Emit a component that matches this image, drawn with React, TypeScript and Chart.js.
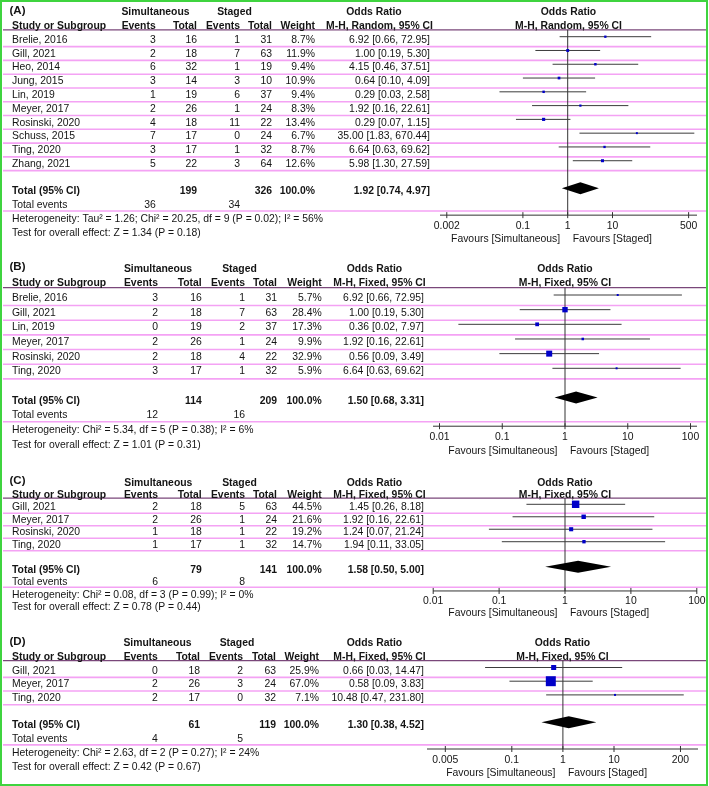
import React, { useEffect, useRef } from "react";
import { Chart, registerables } from "chart.js";
Chart.register(...registerables);

// ---------------- Panel A ----------------
const studiesA = ["Brelie, 2016", "Gill, 2021", "Heo, 2014", "Jung, 2015", "Lin, 2019", "Meyer, 2017", "Rosinski, 2020", "Schuss, 2015", "Ting, 2020", "Zhang, 2021"];
const simEventsA = [3, 2, 6, 3, 1, 2, 4, 7, 3, 5];
const simTotalA = [16, 18, 32, 14, 19, 26, 18, 17, 17, 22];
const stgEventsA = [1, 7, 1, 3, 6, 1, 11, 0, 1, 3];
const stgTotalA = [31, 63, 19, 10, 37, 24, 22, 24, 32, 64];
const weightA = [8.7, 11.9, 9.4, 10.9, 9.4, 8.3, 13.4, 6.7, 8.7, 12.6];
const orA = [6.92, 1.0, 4.15, 0.64, 0.29, 1.92, 0.29, 35.0, 6.64, 5.98];
const loA = [0.66, 0.19, 0.46, 0.1, 0.03, 0.16, 0.07, 1.83, 0.63, 1.3];
const hiA = [72.95, 5.3, 37.51, 4.09, 2.58, 22.61, 1.15, 670.44, 69.62, 27.59];
const totalsA = [199, 326];
const eventsA = [36, 34];
const pooledA = [1.92, 0.74, 4.97];
const ticksA = [0.002, 0.1, 1, 10, 500];
const hetA = "Heterogeneity: Tau² = 1.26; Chi² = 20.25, df = 9 (P = 0.02); I² = 56%";
const testA = "Test for overall effect: Z = 1.34 (P = 0.18)";

// ---------------- Panel B ----------------
const studiesB = ["Brelie, 2016", "Gill, 2021", "Lin, 2019", "Meyer, 2017", "Rosinski, 2020", "Ting, 2020"];
const simEventsB = [3, 2, 0, 2, 2, 3];
const simTotalB = [16, 18, 19, 26, 18, 17];
const stgEventsB = [1, 7, 2, 1, 4, 1];
const stgTotalB = [31, 63, 37, 24, 22, 32];
const weightB = [5.7, 28.4, 17.3, 9.9, 32.9, 5.9];
const orB = [6.92, 1.0, 0.36, 1.92, 0.56, 6.64];
const loB = [0.66, 0.19, 0.02, 0.16, 0.09, 0.63];
const hiB = [72.95, 5.3, 7.97, 22.61, 3.49, 69.62];
const totalsB = [114, 209];
const eventsB = [12, 16];
const pooledB = [1.5, 0.68, 3.31];
const ticksB = [0.01, 0.1, 1, 10, 100];
const hetB = "Heterogeneity: Chi² = 5.34, df = 5 (P = 0.38); I² = 6%";
const testB = "Test for overall effect: Z = 1.01 (P = 0.31)";

// ---------------- Panel C ----------------
const studiesC = ["Gill, 2021", "Meyer, 2017", "Rosinski, 2020", "Ting, 2020"];
const simEventsC = [2, 2, 1, 1];
const simTotalC = [18, 26, 18, 17];
const stgEventsC = [5, 1, 1, 1];
const stgTotalC = [63, 24, 22, 32];
const weightC = [44.5, 21.6, 19.2, 14.7];
const orC = [1.45, 1.92, 1.24, 1.94];
const loC = [0.26, 0.16, 0.07, 0.11];
const hiC = [8.18, 22.61, 21.24, 33.05];
const totalsC = [79, 141];
const eventsC = [6, 8];
const pooledC = [1.58, 0.5, 5.0];
const ticksC = [0.01, 0.1, 1, 10, 100];
const hetC = "Heterogeneity: Chi² = 0.08, df = 3 (P = 0.99); I² = 0%";
const testC = "Test for overall effect: Z = 0.78 (P = 0.44)";

// ---------------- Panel D ----------------
const studiesD = ["Gill, 2021", "Meyer, 2017", "Ting, 2020"];
const simEventsD = [0, 2, 2];
const simTotalD = [18, 26, 17];
const stgEventsD = [2, 3, 0];
const stgTotalD = [63, 24, 32];
const weightD = [25.9, 67.0, 7.1];
const orD = [0.66, 0.58, 10.48];
const loD = [0.03, 0.09, 0.47];
const hiD = [14.47, 3.83, 231.8];
const totalsD = [61, 119];
const eventsD = [4, 5];
const pooledD = [1.3, 0.38, 4.52];
const ticksD = [0.005, 0.1, 1, 10, 200];
const hetD = "Heterogeneity: Chi² = 2.63, df = 2 (P = 0.27); I² = 24%";
const testD = "Test for overall effect: Z = 0.42 (P = 0.67)";

// ---------------- styles / layout ----------------
const W = 709;
const H = 786;
const FONT = '"Liberation Sans", Arial, Helvetica, sans-serif';
const FONT_SIZE = 10.4;
const TEXT = "#141414";
const PINK = "#f4a2f4";
const HEAD_LINE = "#7a477a";
const LINE = "#333333";
const CI_COLOR = "#3c3c3c";
const BOX = "#0000c8";

const panels = [
  {
    label: "(A)", method: "M-H, Random, 95% CI",
    studies: studiesA, simEvents: simEventsA, simTotal: simTotalA, stgEvents: stgEventsA, stgTotal: stgTotalA,
    weight: weightA, or: orA, lo: loA, hi: hiA, totals: totalsA, events: eventsA, pooled: pooledA, ticks: ticksA,
    het: hetA, test: testA,
    lay: { row0: 36.7, step: 13.78, left: 440, right: 697, nullPx: 567.7, ppd: 44.8, cols: [155.7, 197, 240, 272, 315, 430], simHdr: 155.5, stgHdr: 234.5, orHdr: 374, methodHdr: 379.5 },
  },
  {
    label: "(B)", method: "M-H, Fixed, 95% CI",
    studies: studiesB, simEvents: simEventsB, simTotal: simTotalB, stgEvents: stgEventsB, stgTotal: stgTotalB,
    weight: weightB, or: orB, lo: loB, hi: hiB, totals: totalsB, events: eventsB, pooled: pooledB, ticks: ticksB,
    het: hetB, test: testB,
    lay: { row0: 295, step: 14.66, left: 433, right: 697, nullPx: 565.0, ppd: 62.75, cols: [158, 201.7, 245, 277, 321.7, 424], simHdr: 158, stgHdr: 239.5, orHdr: 374.5, methodHdr: 379.5 },
  },
  {
    label: "(C)", method: "M-H, Fixed, 95% CI",
    studies: studiesC, simEvents: simEventsC, simTotal: simTotalC, stgEvents: stgEventsC, stgTotal: stgTotalC,
    weight: weightC, or: orC, lo: loC, hi: hiC, totals: totalsC, events: eventsC, pooled: pooledC, ticks: ticksC,
    het: hetC, test: testC,
    lay: { row0: 504.3, step: 12.47, left: 433, right: 697, nullPx: 565.0, ppd: 65.9, cols: [158, 201.7, 245, 277, 321.7, 424], simHdr: 158.3, stgHdr: 239.5, orHdr: 374.5, methodHdr: 379.5 },
  },
  {
    label: "(D)", method: "M-H, Fixed, 95% CI",
    studies: studiesD, simEvents: simEventsD, simTotal: simTotalD, stgEvents: stgEventsD, stgTotal: stgTotalD,
    weight: weightD, or: orD, lo: loD, hi: hiD, totals: totalsD, events: eventsD, pooled: pooledD, ticks: ticksD,
    het: hetD, test: testD,
    lay: { row0: 667.5, step: 13.7, left: 427, right: 698, nullPx: 562.9, ppd: 51.1, cols: [157.7, 200, 243, 276, 319, 424], simHdr: 157.5, stgHdr: 237, orHdr: 374.5, methodHdr: 379.5 },
  },
];

const fmtCI = (o: number, l: number, h: number) => `${o.toFixed(2)} [${l.toFixed(2)}, ${h.toFixed(2)}]`;
const boxSide = (w: number) => Math.max(2, 0.49 * Math.pow(w, 0.717));

function makePlugin(p: any) {
  const lay = p.lay;
  const L = p.studies.length - 1;
  return {
    id: "forest",
    beforeDatasetsDraw(chart: any) {
      const { ctx, chartArea } = chart;
      const x = chart.scales.x;
      const y = chart.scales.y;
      const Y = (v: number) => y.getPixelForValue(v);
      const seg = (x1: number, y1: number, x2: number, y2: number) => {
        ctx.beginPath();
        ctx.moveTo(x1, y1);
        ctx.lineTo(x2, y2);
        ctx.stroke();
      };
      ctx.save();
      // pink row separators
      ctx.strokeStyle = PINK;
      ctx.lineWidth = 1.6;
      p.studies.forEach((_: string, i: number) => seg(3, Y(i + 0.72), 706, Y(i + 0.72)));
      seg(3, Y(L + 3.65), 706, Y(L + 3.65));
      // header line
      ctx.strokeStyle = HEAD_LINE;
      ctx.lineWidth = 1.2;
      seg(3, Y(-0.5), 706, Y(-0.5));
      // null line
      const x1 = x.getPixelForValue(1);
      ctx.strokeStyle = LINE;
      ctx.lineWidth = 1;
      seg(x1, Y(-0.5), x1, Y(L + 3.95));
      // axis
      const ay = Y(L + 3.95);
      seg(chartArea.left, ay, chartArea.right, ay);
      p.ticks.forEach((t: number) => {
        const tx = x.getPixelForValue(t);
        seg(tx, ay - 3, tx, ay + 3);
      });
      // confidence intervals
      ctx.strokeStyle = CI_COLOR;
      ctx.lineWidth = 1;
      p.studies.forEach((_: string, i: number) => {
        seg(x.getPixelForValue(p.lo[i]), Y(i), x.getPixelForValue(p.hi[i]), Y(i));
      });
      ctx.restore();
    },
    afterDatasetsDraw(chart: any) {
      const { ctx } = chart;
      const x = chart.scales.x;
      const y = chart.scales.y;
      const Y = (v: number) => y.getPixelForValue(v);
      ctx.save();
      // pooled diamond
      const [est, plo, phi] = p.pooled;
      const dy = Y(L + 2);
      ctx.fillStyle = "#000000";
      ctx.beginPath();
      ctx.moveTo(x.getPixelForValue(plo), dy);
      ctx.lineTo(x.getPixelForValue(est), dy - 6);
      ctx.lineTo(x.getPixelForValue(phi), dy);
      ctx.lineTo(x.getPixelForValue(est), dy + 6);
      ctx.closePath();
      ctx.fill();

      const txt = (s: string, tx: number, v: number, align: CanvasTextAlign, bold = false, size = FONT_SIZE, adj = 0) => {
        ctx.font = `${bold ? "bold " : ""}${size}px ${FONT}`;
        ctx.textAlign = align;
        ctx.textBaseline = "middle";
        ctx.fillStyle = TEXT;
        ctx.fillText(s, tx, Y(v) + 3.3 + adj);
      };
      const c = lay.cols;
      const plotMid = (chart.chartArea.left + chart.chartArea.right) / 2;
      // header row 1
      txt(p.label, 9.5, -2, "left", true, 11.5, -2);
      txt("Simultaneous", lay.simHdr, -2, "center", true);
      txt("Staged", lay.stgHdr, -2, "center", true);
      txt("Odds Ratio", lay.orHdr, -2, "center", true);
      txt("Odds Ratio", plotMid, -2, "center", true);
      // header row 2
      txt("Study or Subgroup", 12, -1, "left", true);
      txt("Events", c[0], -1, "right", true);
      txt("Total", c[1], -1, "right", true);
      txt("Events", c[2], -1, "right", true);
      txt("Total", c[3], -1, "right", true);
      txt("Weight", c[4], -1, "right", true);
      txt(p.method, lay.methodHdr, -1, "center", true);
      txt(p.method, plotMid, -1, "center", true);
      // study rows
      p.studies.forEach((s: string, i: number) => {
        txt(s, 12, i, "left");
        txt(String(p.simEvents[i]), c[0], i, "right");
        txt(String(p.simTotal[i]), c[1], i, "right");
        txt(String(p.stgEvents[i]), c[2], i, "right");
        txt(String(p.stgTotal[i]), c[3], i, "right");
        txt(p.weight[i].toFixed(1) + "%", c[4], i, "right");
        txt(fmtCI(p.or[i], p.lo[i], p.hi[i]), c[5], i, "right");
      });
      // totals
      txt("Total (95% CI)", 12, L + 2, "left", true);
      txt(String(p.totals[0]), c[1], L + 2, "right", true);
      txt(String(p.totals[1]), c[3], L + 2, "right", true);
      txt("100.0%", c[4], L + 2, "right", true);
      txt(fmtCI(est, plo, phi), c[5], L + 2, "right", true);
      txt("Total events", 12, L + 3, "left");
      txt(String(p.events[0]), c[0], L + 3, "right");
      txt(String(p.events[1]), c[2], L + 3, "right");
      txt(p.het, 12, L + 4, "left");
      txt(p.test, 12, L + 5, "left");
      // axis labels
      p.ticks.forEach((t: number) => txt(String(t), x.getPixelForValue(t), L + 4.5, "center"));
      const x1 = x.getPixelForValue(1);
      txt("Favours [Simultaneous]", x1 - 7.5, L + 5.45, "right");
      txt("Favours [Staged]", x1 + 5, L + 5.45, "left");
      ctx.restore();
    },
  };
}

function Panel({ p }: { p: any }) {
  const ref = useRef<HTMLCanvasElement>(null);
  useEffect(() => {
    const lay = p.lay;
    const L = p.studies.length - 1;
    const yMin = -1;
    const yMax = L + 4;
    const top = lay.row0 + yMin * lay.step;
    const bottom = lay.row0 + yMax * lay.step;
    const xMin = Math.pow(10, (lay.left - lay.nullPx) / lay.ppd);
    const xMax = Math.pow(10, (lay.right - lay.nullPx) / lay.ppd);
    const chart = new Chart(ref.current as HTMLCanvasElement, {
      type: "scatter",
      data: {
        datasets: [
          {
            data: p.or.map((v: number, i: number) => ({ x: v, y: i })),
            pointStyle: "rect",
            pointRadius: p.weight.map((w: number) => boxSide(w) / Math.SQRT2),
            pointHoverRadius: p.weight.map((w: number) => boxSide(w) / Math.SQRT2),
            backgroundColor: BOX,
            borderColor: BOX,
            borderWidth: 0,
            clip: false as any,
          },
        ],
      },
      options: {
        responsive: false,
        animation: false,
        devicePixelRatio: 1,
        events: [],
        layout: { padding: { left: lay.left, right: W - lay.right, top: top, bottom: H - bottom } },
        scales: {
          x: { type: "logarithmic", min: xMin, max: xMax, bounds: "data", display: false },
          y: { type: "linear", min: yMin, max: yMax, reverse: true, bounds: "data", display: false },
        },
        plugins: { legend: { display: false }, tooltip: { enabled: false }, title: { display: false } },
      } as any,
      plugins: [makePlugin(p)],
    });
    return () => chart.destroy();
  }, [p]);
  return (
    <canvas
      ref={ref}
      width={W}
      height={H}
      style={{ position: "absolute", left: 0, top: 0, width: W, height: H }}
    />
  );
}

export default function App() {
  return (
    <div style={{ position: "absolute", left: 0, top: 0, width: W, height: H, background: "#ffffff", overflow: "hidden" }}>
      {panels.map((p, i) => (
        <Panel key={i} p={p} />
      ))}
      <div
        style={{
          position: "absolute", left: 0, top: 0, width: 708, height: 786,
          border: "2px solid #3fd43f", boxSizing: "border-box", pointerEvents: "none",
        }}
      />
    </div>
  );
}
